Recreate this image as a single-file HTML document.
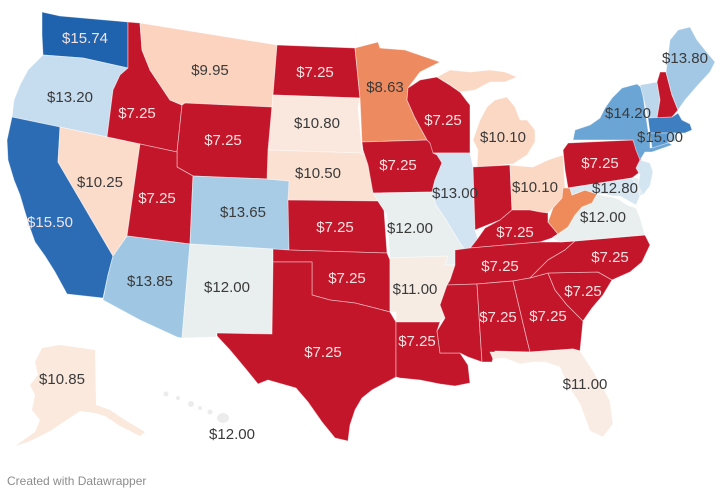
<!DOCTYPE html>
<html><head><meta charset="utf-8"><style>
html,body{margin:0;padding:0;background:#fff;}
svg{display:block;}
text{font-family:"Liberation Sans",Arial,sans-serif;}
.s{stroke:#fff;stroke-opacity:.55;stroke-width:.8;stroke-linejoin:round;}
.r{fill:#c4162a;}
.l{font-size:15px;text-anchor:middle;fill:#3a3a3a;}
.d{font-size:15px;text-anchor:middle;fill:#f4e2e2;}
</style></head><body>
<svg width="720" height="494" viewBox="0 0 720 494" xmlns="http://www.w3.org/2000/svg">
<g class="s">
<!-- WA -->
<polygon fill="#1f63ae" points="42,12 60,16 128,22 128,68 83,58 43,55 42,35"/>
<!-- OR -->
<polygon fill="#c6dcef" points="43,55 83,58 128,68 120,75 113,90 107,137 12,117 14,100 20,85 28,70"/>
<!-- CA -->
<polygon fill="#2b6cb5" points="12,117 60,127 58,162 113,256 108,275 103,298 67,294 55,272 45,256 35,242 30,228 25,212 20,195 14,180 8,160 7,140"/>
<!-- ID -->
<polygon class="r" points="128,22 140,23 142,50 150,70 160,85 170,100 182,105 177,152 107,137 113,90 120,75 128,68"/>
<!-- NV -->
<polygon fill="#fbdccb" points="60,127 140,144 127,236 113,256 58,162"/>
<!-- MT -->
<polygon fill="#fbd3bf" points="140,23 277,45 272,107 185,103 182,105 170,100 160,85 150,70 142,50"/>
<!-- WY -->
<polygon class="r" points="185,103 272,107 268,179 193,176 177,167 177,152 182,105"/>
<!-- UT -->
<polygon class="r" points="140,144 177,152 177,167 193,176 190,244 127,236"/>
<!-- AZ -->
<polygon fill="#9fc7e4" points="127,236 190,244 182,338 177,337 140,320 103,300 108,275 113,256"/>
<!-- CO -->
<polygon fill="#a8cce6" points="193,176 268,179 290,181 289,250 190,244"/>
<!-- NM -->
<polygon fill="#e9eeee" points="190,244 273,249 272,334 217,333 216,337 182,338"/>
<!-- ND -->
<polygon class="r" points="277,45 355,48 360,98 273,95"/>
<!-- SD -->
<polygon fill="#fae8de" points="273,95 360,98 358,108 362,150 368,157 360,153 268,150"/>
<!-- NE -->
<polygon fill="#fbe1d2" points="268,150 360,153 368,157 373,175 378,201 288,200 289,181 267,179"/>
<!-- KS -->
<polygon class="r" points="288,200 378,201 384,210 387,253 289,250"/>
<!-- OK -->
<polygon class="r" points="273,249 289,250 387,253 390,260 390,312 375,308 355,303 330,300 312,295 312,262 273,262"/>
<!-- TX -->
<polygon class="r" points="273,262 312,262 312,295 330,300 355,303 375,308 390,312 396,322 396,377 385,383 372,390 362,398 355,410 350,425 348,441 335,438 322,422 308,402 296,388 282,384 268,380 258,384 245,368 230,350 217,336 217,333 272,334"/>
<!-- MN -->
<polygon fill="#ee8a5f" points="355,48 378,42 380,48 405,50 440,62 420,72 408,88 407,100 415,118 427,140 362,142 360,98"/>
<!-- IA -->
<polygon class="r" points="362,142 427,140 430,143 437,150 442,163 435,180 432,192 373,193 368,165 363,150"/>
<!-- MO -->
<polygon fill="#e9eeee" points="373,193 432,192 436,205 445,218 460,243 467,252 460,258 455,265 445,265 448,256 390,258 387,215 378,201"/>
<!-- AR -->
<polygon fill="#f6ece4" points="390,258 448,256 445,265 455,265 450,280 447,285 440,305 445,318 440,322 396,322 396,312 390,312"/>
<!-- LA -->
<polygon class="r" points="396,322 440,322 437,331 440,353 460,353 468,365 470,383 455,386 440,384 420,380 400,378 396,377"/>
<!-- WI -->
<polygon class="r" points="408,88 420,80 437,77 450,85 460,92 466,100 470,105 470,153 433,153 430,143 427,140 415,118 407,100"/>
<!-- MI UP -->
<polygon fill="#fbd8c4" points="437,77 450,70 470,72 490,70 505,72 517,77 505,82 490,82 475,90 460,92 450,85"/>
<!-- MI LP -->
<polygon fill="#fbd8c4" points="487,107 495,100 507,97 515,107 520,120 527,120 535,130 535,142 527,155 513,164 477,167 478,150 473,140 480,120"/>
<!-- IL -->
<polygon fill="#d2e3f1" points="433,153 470,153 473,167 475,230 478,240 467,252 460,243 445,218 436,205 432,192 435,180 442,163 437,155"/>
<!-- IN -->
<polygon class="r" points="473,167 510,165 512,210 500,220 485,226 475,230"/>
<!-- OH -->
<polygon fill="#fbd8c4" points="510,165 520,166 533,167 548,160 563,155 565,188 562,198 553,208 548,213 540,212 530,210 512,210"/>
<!-- KY -->
<polygon class="r" points="467,252 475,242 478,238 485,228 500,220 512,210 530,210 540,212 548,213 548,222 558,234 552,238 540,242 470,248"/>
<!-- TN -->
<polygon class="r" points="455,250 470,248 540,242 560,242 575,241 565,250 548,260 530,278 513,281 477,284 447,285 450,280 455,265"/>
<!-- MS -->
<polygon class="r" points="447,285 477,284 482,362 468,357 460,353 440,353 437,331 445,318 440,305"/>
<!-- AL -->
<polygon class="r" points="477,284 513,281 527,340 530,352 495,351 492,362 482,362"/>
<!-- GA -->
<polygon class="r" points="513,281 530,278 548,273 555,290 567,305 583,321 580,351 573,349 530,352 527,340"/>
<!-- FL -->
<polygon fill="#f8ece4" points="490,352 530,352 573,349 580,351 593,371 603,388 610,401 613,424 603,437 590,431 580,404 567,384 560,367 545,362 533,362 520,364 505,358 493,359"/>
<!-- SC -->
<polygon class="r" points="548,273 598,272 612,280 603,295 592,308 583,321 567,305 555,290"/>
<!-- NC -->
<polygon class="r" points="575,241 645,235 650,245 642,262 630,272 612,280 598,272 548,273 530,278 548,260 565,250"/>
<!-- VA -->
<polygon fill="#e9eeee" points="552,238 558,234 568,227 575,215 582,207 592,203 597,194 605,196 613,197 620,200 627,205 636,208 640,218 645,235 575,241 560,242"/>
<!-- WV -->
<polygon fill="#ef8a5a" points="563,188 570,188 572,195 585,190 597,194 592,203 582,207 575,215 568,227 558,234 548,222 553,208 562,198"/>
<!-- PA -->
<polygon class="r" points="563,150 568,143 633,140 638,150 643,165 640,172 632,178 568,188 565,170"/>
<!-- MD -->
<polygon fill="#d7e6f1" points="568,188 632,178 637,185 640,196 636,205 627,200 620,196 613,196 605,194 597,194 585,190 572,195 570,188"/>
<!-- DE -->
<polygon fill="#e3ebf0" points="632,178 638,178 645,193 640,196 637,185"/>
<!-- NJ -->
<polygon fill="#d4e5f2" points="640,160 650,163 653,172 650,186 643,195 638,185 640,175 636,168"/>
<!-- NY -->
<polygon fill="#6ba5d5" points="573,140 575,130 590,125 600,118 605,108 612,98 622,88 637,84 642,88 645,110 648,130 650,140 650,148 668,142 672,145 652,152 645,152 640,160 636,150 633,140"/>
<!-- VT -->
<polygon fill="#bcd6ec" points="640,85 657,82 660,100 657,118 648,118 644,100"/>
<!-- NH -->
<polygon class="r" points="660,72 666,72 672,95 678,110 672,117 657,118 660,100 657,82"/>
<!-- ME -->
<polygon fill="#a3c8e5" points="666,72 670,40 678,30 690,27 697,40 705,50 715,62 710,72 698,85 685,100 678,110 672,95"/>
<!-- MA -->
<polygon fill="#3d7fc1" points="648,118 672,117 678,113 682,120 690,124 692,130 685,133 675,133 650,133"/>
<!-- CT -->
<polygon fill="#5e9bd0" points="650,133 668,133 668,143 652,148"/>
<!-- RI -->
<polygon fill="#9fc5e4" points="668,133 675,133 675,141 668,143"/>
<!-- AK -->
<polygon fill="#fbe9de" stroke-opacity="0" points="42,348 60,345 95,350 96,405 110,410 125,420 145,432 140,436 120,426 105,416 95,413 80,411 65,421 50,431 30,441 15,446 35,432 40,420 32,410 35,395 30,385 38,375 35,362"/>
</g>
<!-- HI -->
<g fill="#ececec">
<circle cx="166" cy="394" r="2.5"/><circle cx="178" cy="398" r="2"/><circle cx="191" cy="404" r="3"/><circle cx="200" cy="408" r="2"/><circle cx="210" cy="412" r="2.5"/><ellipse cx="223" cy="418" rx="6" ry="5"/>
</g>
<g>
<text class="d" x="85" y="43">$15.74</text>
<text class="l" x="70" y="102">$13.20</text>
<text class="d" x="137" y="118">$7.25</text>
<text class="l" x="210" y="75">$9.95</text>
<text class="d" x="315" y="77">$7.25</text>
<text class="d" x="223" y="145">$7.25</text>
<text class="l" x="317" y="128">$10.80</text>
<text class="l" x="318" y="178">$10.50</text>
<text class="l" x="100" y="187">$10.25</text>
<text class="d" x="157" y="203">$7.25</text>
<text class="l" x="243" y="217">$13.65</text>
<text class="d" x="335" y="232">$7.25</text>
<text class="d" x="50" y="227">$15.50</text>
<text class="l" x="150" y="286">$13.85</text>
<text class="l" x="227" y="292">$12.00</text>
<text class="d" x="323" y="357">$7.25</text>
<text class="d" x="347" y="283">$7.25</text>
<text class="l" x="62" y="384">$10.85</text>
<text class="l" x="232" y="439">$12.00</text>
<text class="l" x="385" y="92">$8.63</text>
<text class="d" x="443" y="125">$7.25</text>
<text class="l" x="503" y="142">$10.10</text>
<text class="d" x="398" y="170">$7.25</text>
<text class="l" x="455" y="198">$13.00</text>
<text class="l" x="535" y="192">$10.10</text>
<text class="d" x="600" y="168">$7.25</text>
<text class="l" x="628" y="118">$14.20</text>
<text class="l" x="685" y="63">$13.80</text>
<text class="l" x="660" y="142">$15.00</text>
<text class="l" x="615" y="193">$12.80</text>
<text class="l" x="603" y="222">$12.00</text>
<text class="d" x="515" y="237">$7.25</text>
<text class="l" x="410" y="233">$12.00</text>
<text class="l" x="415" y="294">$11.00</text>
<text class="d" x="500" y="271">$7.25</text>
<text class="d" x="610" y="262">$7.25</text>
<text class="d" x="583" y="296">$7.25</text>
<text class="d" x="498" y="322">$7.25</text>
<text class="d" x="548" y="321">$7.25</text>
<text class="d" x="417" y="346">$7.25</text>
<text class="l" x="585" y="389">$11.00</text>
</g>
<text x="7" y="485" font-size="12" fill="#8c8c8c">Created with Datawrapper</text>
</svg>
</body></html>
